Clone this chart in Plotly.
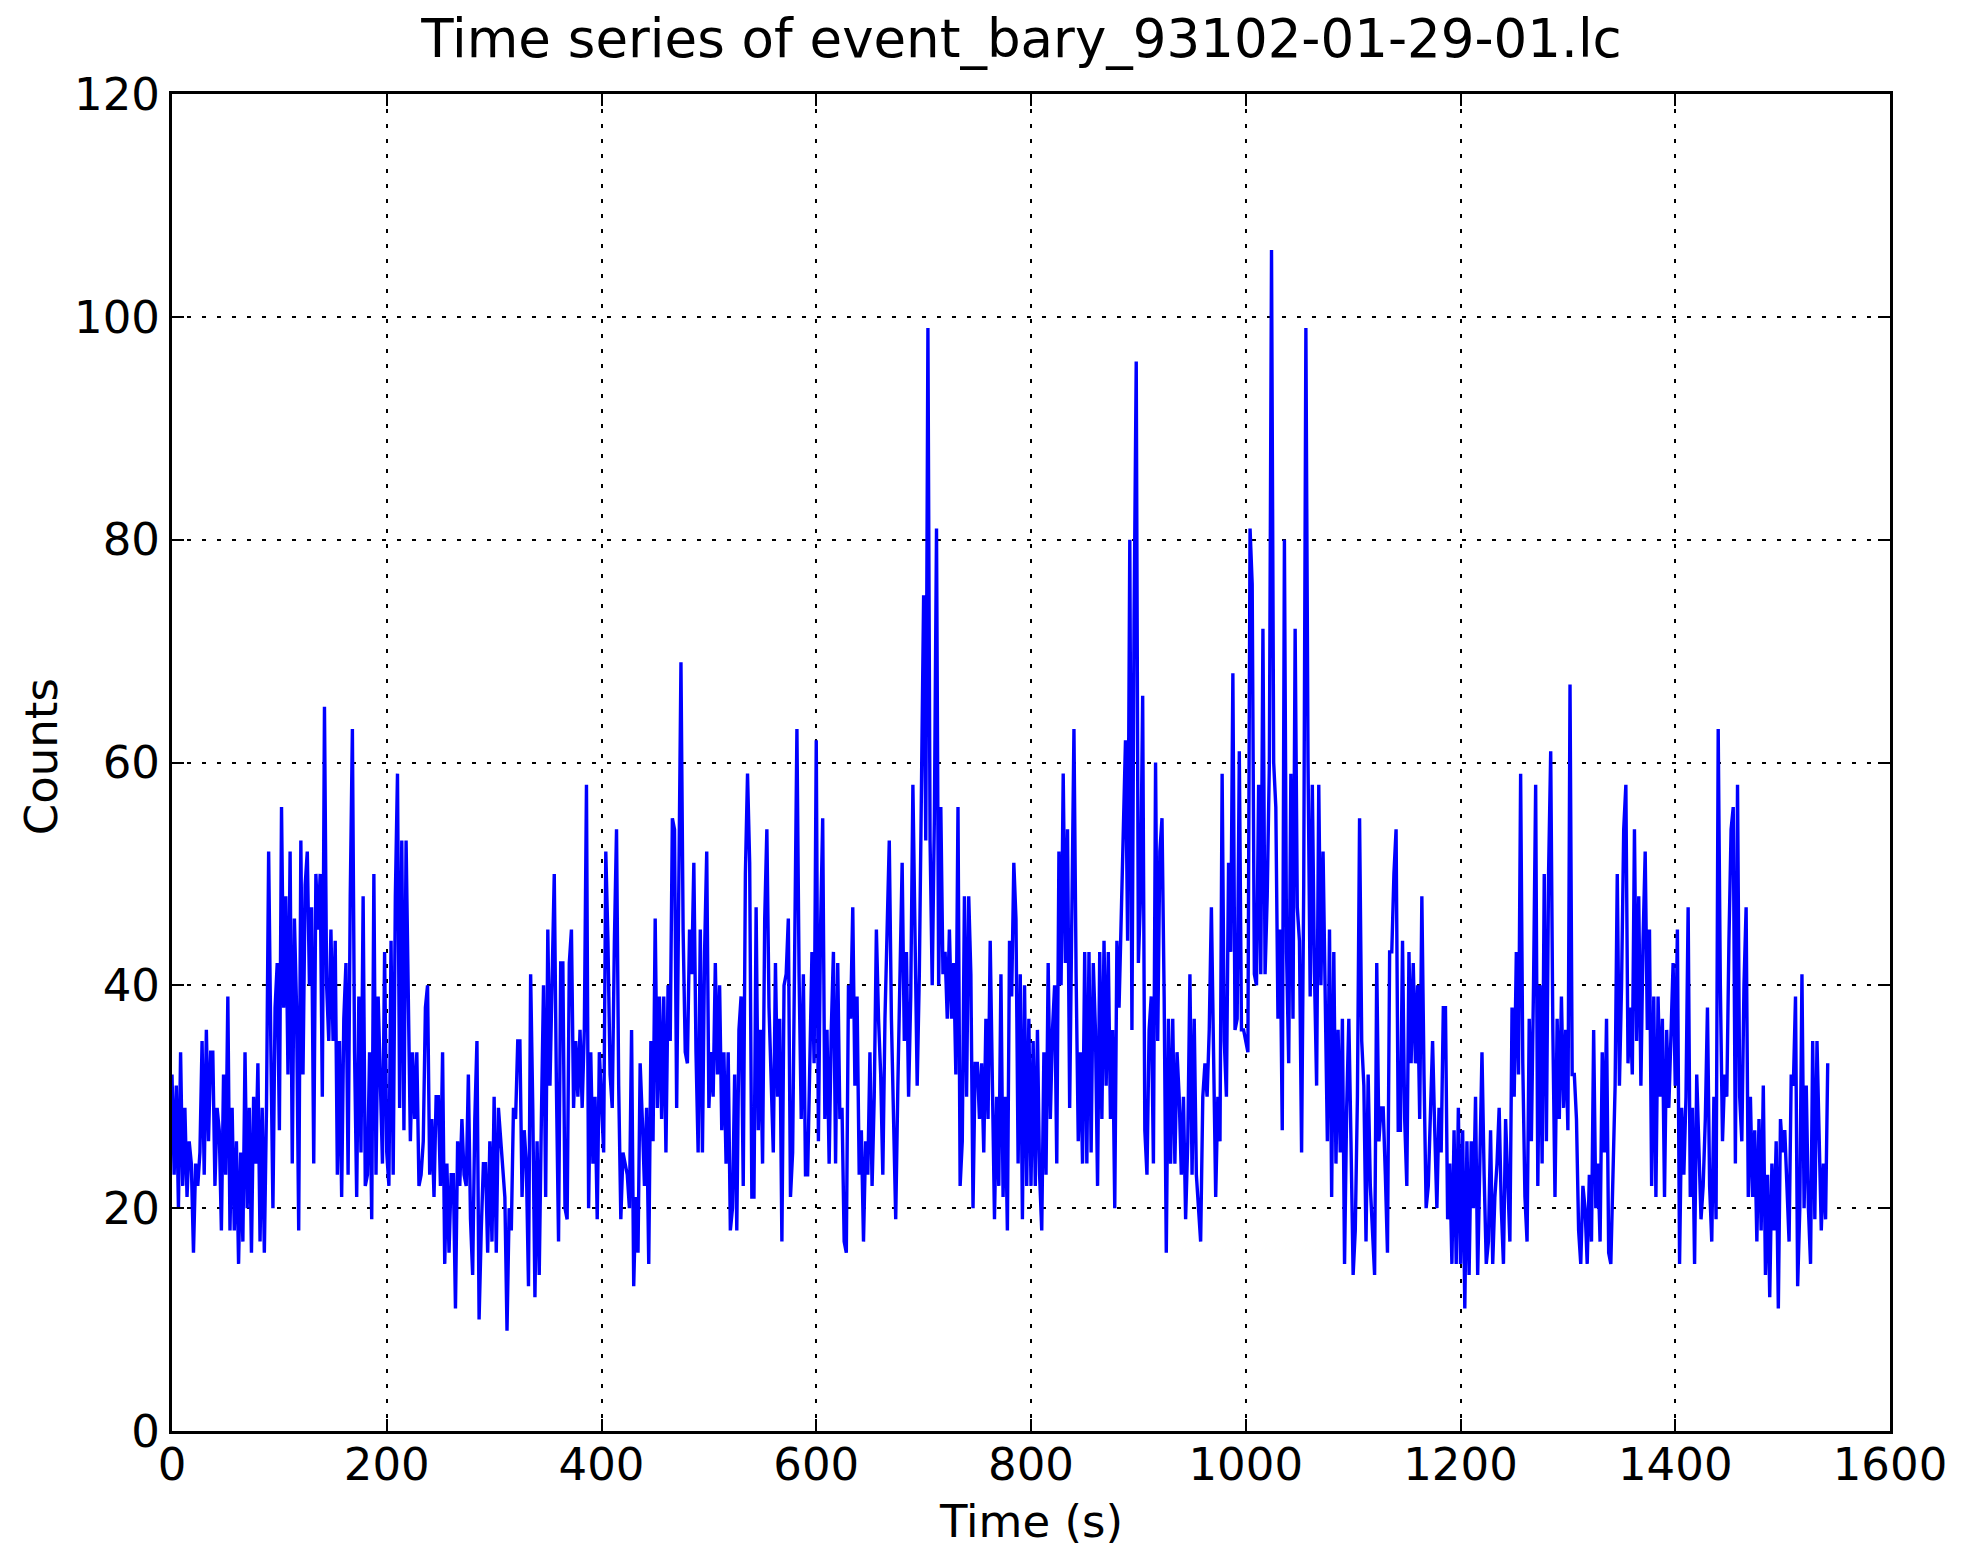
import numpy as np
import plotly.graph_objects as go

# Light curve binned at 2 s; counts per bin, in time order, split into 150 s blocks
BIN_WIDTH = 2.0

counts_0000_0148 = [
    32, 23, 31, 20, 34, 22, 29, 21, 26, 24,
    16, 24, 22, 25, 35, 23, 36, 26, 34, 34,
    22, 29, 27, 18, 32, 23, 39, 18, 29, 18,
    26, 15, 25, 17, 34, 20, 29, 16, 30, 24,
    33, 17, 29, 16, 29, 52, 35, 20, 38, 42,
    27, 56, 38, 48, 32, 52, 24, 46, 38, 18,
    53, 32, 49, 52, 40, 47, 24, 50, 45, 50,
    30, 65, 40, 35, 45,
]
counts_0150_0298 = [
    35, 44, 23, 35, 21, 37, 42, 23, 48, 63,
    34, 21, 39, 25, 48, 22, 23, 34, 19, 50,
    23, 39, 30, 24, 43, 25, 22, 44, 23, 48,
    59, 29, 53, 27, 53, 40, 26, 34, 28, 34,
    22, 23, 26, 38, 40, 23, 28, 21, 30, 30,
    22, 34, 15, 24, 16, 23, 23, 11, 26, 22,
    28, 23, 22, 32, 19, 14, 28, 35, 10, 18,
    24, 24, 16, 26, 17,
]
counts_0300_0448 = [
    30, 16, 29, 26, 24, 21, 9, 20, 18, 29,
    28, 35, 35, 21, 27, 24, 13, 41, 29, 12,
    26, 14, 28, 40, 21, 45, 31, 40, 50, 31,
    17, 42, 42, 20, 19, 42, 45, 29, 35, 30,
    36, 29, 36, 58, 20, 34, 24, 30, 19, 34,
    29, 25, 52, 44, 32, 29, 44, 54, 31, 19,
    25, 24, 23, 20, 36, 13, 21, 16, 33, 28,
    22, 29, 15, 35, 26,
]
counts_0450_0598 = [
    46, 29, 39, 28, 39, 25, 40, 35, 55, 54,
    29, 51, 69, 45, 34, 33, 45, 41, 51, 34,
    25, 45, 25, 43, 52, 29, 34, 30, 42, 32,
    40, 27, 34, 24, 34, 18, 20, 32, 18, 36,
    39, 22, 50, 59, 51, 21, 21, 47, 27, 36,
    24, 46, 54, 38, 30, 25, 42, 30, 37, 17,
    40, 41, 46, 21, 25, 43, 63, 41, 28, 41,
    23, 23, 35, 43, 33,
]
counts_0600_0748 = [
    62, 26, 45, 55, 28, 36, 24, 36, 43, 24,
    42, 28, 29, 17, 16, 40, 37, 47, 31, 39,
    23, 27, 17, 26, 23, 34, 22, 30, 45, 37,
    32, 23, 37, 45, 53, 37, 27, 19, 31, 42,
    51, 35, 43, 30, 39, 58, 43, 31, 41, 60,
    75, 53, 99, 53, 40, 55, 81, 40, 56, 41,
    43, 37, 45, 37, 42, 32, 56, 22, 26, 48,
    30, 48, 41, 20, 33,
]
counts_0750_0898 = [
    33, 28, 33, 25, 37, 28, 44, 30, 19, 30,
    22, 41, 21, 30, 18, 44, 39, 51, 46, 24,
    41, 19, 40, 22, 37, 22, 35, 22, 36, 23,
    18, 34, 23, 42, 28, 36, 40, 24, 52, 40,
    59, 42, 54, 29, 45, 63, 41, 26, 34, 24,
    43, 24, 43, 25, 42, 36, 22, 43, 28, 44,
    31, 43, 28, 36, 20, 44, 38, 48, 54, 62,
    44, 80, 36, 73, 96,
]
counts_0900_1048 = [
    42, 48, 66, 27, 23, 36, 39, 24, 60, 35,
    52, 55, 39, 16, 37, 24, 37, 24, 34, 30,
    23, 30, 19, 26, 41, 23, 37, 23, 20, 17,
    30, 33, 30, 36, 47, 36, 21, 30, 26, 59,
    35, 30, 51, 43, 68, 36, 37, 61, 36, 36,
    35, 34, 81, 76, 41, 40, 58, 41, 72, 41,
    48, 60, 106, 60, 56, 37, 45, 27, 80, 43,
    33, 59, 37, 72, 47,
]
counts_1050_1198 = [
    44, 25, 49, 99, 60, 39, 58, 41, 31, 58,
    40, 52, 40, 26, 45, 21, 43, 24, 36, 25,
    37, 15, 29, 37, 26, 14, 18, 30, 55, 35,
    31, 17, 32, 22, 18, 14, 42, 26, 29, 29,
    23, 16, 43, 43, 50, 54, 27, 27, 44, 28,
    22, 43, 33, 42, 33, 40, 28, 48, 32, 20,
    22, 29, 35, 27, 20, 29, 25, 38, 38, 19,
    24, 15, 27, 15, 29,
]
counts_1200_1348 = [
    15, 27, 11, 26, 14, 26, 20, 30, 14, 24,
    34, 23, 15, 17, 27, 15, 21, 24, 29, 20,
    15, 28, 22, 17, 38, 30, 43, 32, 59, 33,
    21, 17, 37, 26, 40, 58, 22, 40, 24, 50,
    26, 50, 61, 36, 21, 37, 28, 39, 29, 36,
    27, 67, 32, 32, 28, 18, 15, 22, 20, 15,
    23, 17, 36, 20, 24, 17, 34, 25, 37, 16,
    15, 22, 31, 50, 31,
]
counts_1350_1498 = [
    40, 54, 58, 33, 38, 32, 54, 35, 48, 31,
    44, 52, 36, 45, 22, 39, 21, 39, 30, 37,
    21, 36, 29, 36, 42, 31, 45, 15, 29, 23,
    30, 47, 21, 29, 15, 32, 26, 19, 22, 28,
    38, 22, 17, 30, 19, 63, 40, 26, 32, 30,
    44, 54, 56, 24, 58, 30, 26, 40, 47, 21,
    30, 21, 27, 17, 28, 18, 31, 14, 23, 12,
    24, 18, 26, 11, 28,
]
counts_1500_1542 = [
    25, 27, 21, 17, 32, 31, 39, 13, 20, 41,
    20, 31, 20, 15, 35, 19, 35, 26, 18, 24,
    19, 33,
]

counts = (counts_0000_0148 + counts_0150_0298 + counts_0300_0448
          + counts_0450_0598 + counts_0600_0748 + counts_0750_0898
          + counts_0900_1048 + counts_1050_1198 + counts_1200_1348
          + counts_1350_1498 + counts_1500_1542)
time_s = np.arange(len(counts)) * BIN_WIDTH

x_ticks = [0, 200, 400, 600, 800, 1000, 1200, 1400, 1600]
y_ticks = [0, 20, 40, 60, 80, 100, 120]

FONT = "DejaVu Sans"
W, H = 1963, 1548
ML, MR, MT, MB = 172, 73, 94, 117

fig = go.Figure()
fig.add_trace(go.Scatter(
    x=time_s, y=counts, mode="lines",
    line=dict(color="#0000ff", width=3.4),
    hoverinfo="skip", showlegend=False,
))

axis_common = dict(
    showline=True, linecolor="black", linewidth=3, mirror="allticks",
    ticks="inside", ticklen=12, tickwidth=2, tickcolor="black",
    showgrid=True, gridcolor="black", gridwidth=2, griddash="4px,11px",
    zeroline=False, tickfont=dict(family=FONT, size=45, color="black"),
    layer="above traces",
)
fig.update_xaxes(range=[0, 1600], tickvals=x_ticks,
                 ticktext=[str(v) for v in x_ticks],
                 ticklabelstandoff=-8, **axis_common)
fig.update_yaxes(range=[0, 120], tickvals=y_ticks,
                 ticktext=[str(v) for v in y_ticks], **axis_common)

plot_h = H - MT - MB
plot_w = W - ML - MR
fig.update_layout(
    width=W, height=H,
    margin=dict(l=ML, r=MR, t=MT, b=MB, autoexpand=False),
    paper_bgcolor="white", plot_bgcolor="white",
    title=dict(text="Time series of event_bary_93102-01-29-01.lc",
               font=dict(family=FONT, size=53, color="black"),
               x=(1021.5 - ML) / plot_w, xref="paper", xanchor="center",
               y=1 - 38 / H, yref="container", yanchor="middle"),
    annotations=[
        dict(text="Time (s)", xref="paper", yref="paper",
             x=0.5, y=-(1521 - (H - MB)) / plot_h,
             xanchor="center", yanchor="middle", showarrow=False,
             font=dict(family=FONT, size=45, color="black")),
        dict(text="Counts", xref="paper", yref="paper", textangle=-90,
             x=(41 - ML) / plot_w, y=0.504,
             xanchor="center", yanchor="middle", showarrow=False,
             font=dict(family=FONT, size=45, color="black")),
    ],
)

fig.write_html("out.html")
